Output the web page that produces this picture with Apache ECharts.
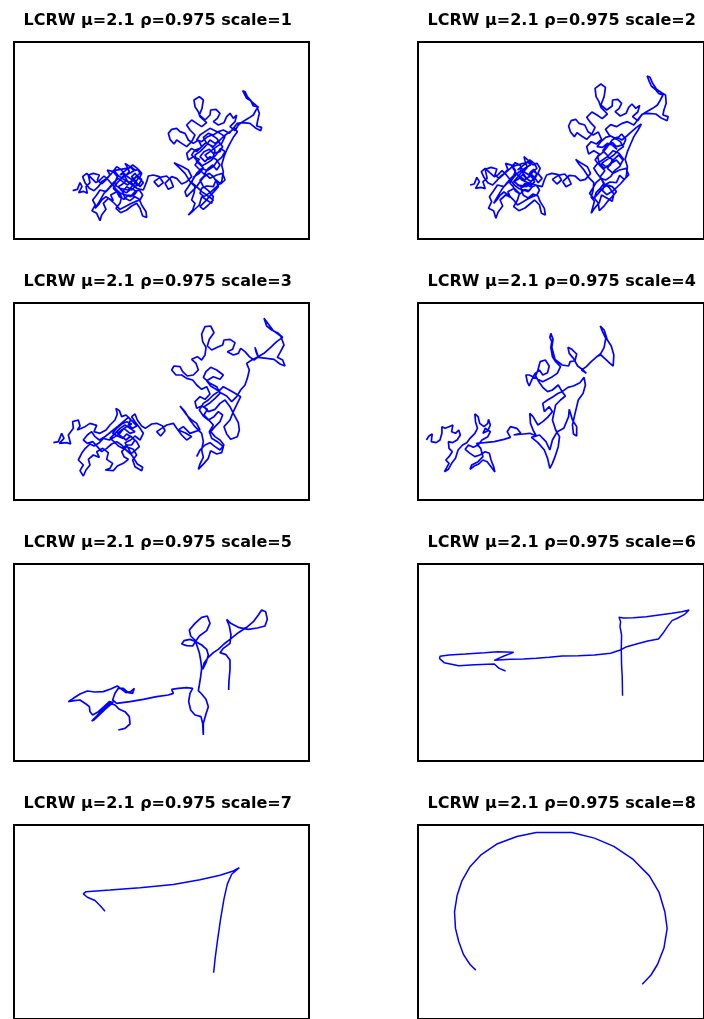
<!DOCTYPE html>
<html><head><meta charset="utf-8">
<script src="https://cdn.jsdelivr.net/npm/echarts@6/dist/echarts.min.js"></script>
<style>html,body{margin:0;padding:0;background:#fff}#c{width:704px;height:1019px}</style>
</head><body><div id="c"></div>
<script>
// Titles
const titles = [
  'LCRW μ=2.1 ρ=0.975 scale=1','LCRW μ=2.1 ρ=0.975 scale=2',
  'LCRW μ=2.1 ρ=0.975 scale=3','LCRW μ=2.1 ρ=0.975 scale=4',
  'LCRW μ=2.1 ρ=0.975 scale=5','LCRW μ=2.1 ρ=0.975 scale=6',
  'LCRW μ=2.1 ρ=0.975 scale=7','LCRW μ=2.1 ρ=0.975 scale=8'
];
// Walk coordinates (x, y), in panel units
const walk1 = [[218,572],[232,568],[240,548],[246,560],[236,578],[250,574],[262,580],[258,560],[270,548],[265,525],[280,520],[298,525],[292,540],[305,552],[318,540],[330,525],[322,510],[340,515],[352,530],[345,548],[332,560],[318,575],[300,570],[290,585],[278,600],[286,615],[276,632],[290,640],[300,662],[305,645],[318,628],[310,610],[325,595],[340,602],[332,585],[350,575],[365,590],[360,610],[348,625],[362,638],[380,630],[395,618],[410,610],[420,625],[428,648],[440,652],[438,635],[425,615],[418,598],[405,590],[390,602],[375,595],[368,575],[380,560],[395,570],[410,555],[400,540],[385,548],[375,530],[388,515],[380,498],[375,490],[390,500],[402,512],[415,508],[425,520],[418,535],[430,548],[420,560],[408,545],[395,530],[405,520],[415,535],[400,555],[385,570],[360,565],[345,555],[360,540],[372,525],[365,510],[350,500],
 [335,520],[320,535],[305,545],[295,560],[282,572],[268,565],[255,548],[248,530],[260,520],[275,535],[288,548],[300,540],[312,528],[325,540],[338,555],[350,570],[362,580],[378,585],[392,590],[405,575],[418,570],[428,585],[420,600],[405,605],[390,612],[375,620],[360,628],[345,612],[332,600],[318,590],[305,600],[295,615],[285,625],[298,605],[312,580],[326,565],[340,548],[355,535],[368,545],[382,555],[395,545],[408,530],[420,520],[412,505],[398,495],[385,505],[372,515],[360,525],
 [372,520],[385,532],[398,540],[412,528],[425,538],[418,552],[405,560],[392,552],[380,540],[368,552],[355,560],[365,572],[380,578],[395,565],[410,575],[400,588],[385,585],[372,598],[358,590],[350,575],[340,565],[352,548],[365,535],[378,525],[392,518],[405,510],[395,502],
 [342,512],[356,528],[378,542],[396,550],[410,565],[430,570],[440,545],[445,528],[460,525],[478,530],[490,548],[475,560],[462,545],[480,532],[500,528],[512,540],[520,560],[505,568],[495,550],[515,530],[530,535],[545,552],[560,545],[575,530],[565,510],[548,500],[530,492],[522,488],[540,505],[555,520],[570,545],[585,560],[582,580],[575,600],[585,610],[578,630],[565,645],[582,630],[598,615],[605,590],[620,600],[635,610],[640,590],[625,572],[610,560],[600,540],[615,525],[600,510],[585,495],[598,478],[580,470],[565,480],[560,460],[575,445],[590,455],[605,440],[595,420],[580,430],[565,420],[555,400],[540,395],[530,385],[515,388],[505,400],[510,418],[522,432],[530,420],[545,430],[560,440],[575,425],[585,405],[570,390],[560,375],[575,360],[590,370],[605,380],[620,368],[600,350],[595,335],[585,320],[582,300],[598,290],[610,300],[606,325],[598,345],[615,360],[630,345],[632,330],[648,328],[660,340],[652,355],[640,365],[655,375],[672,368],[680,350],[690,340],[700,355],[710,345],[705,365],[690,380],[705,392],[715,375],[728,365],[745,355],[760,345],[768,330],[775,320],[760,318],[752,302],[740,295],[735,285],[728,272],[735,275],[742,290],[755,305],[770,318],[778,340],[773,362],[770,378],[785,382],[782,392],[768,385],[750,370],[728,368],[712,370],[700,385],[688,400],[670,390],[655,395],[640,405],[625,400],[610,412],[620,430],[640,440],[655,425],[668,440],[660,455],[640,460],[628,448],[612,455],[600,470],[615,485],[630,470],[648,478],[660,495],[650,510],[638,495],[625,505],[615,520],[630,535],[650,525],[668,520],[675,540],[662,552],[648,540],[640,560],[620,558],[605,565],[600,580],[612,590],[630,578],[650,560],[665,545],[670,515],[665,495],[672,470],[680,450],[690,430],[700,412],[712,395],[705,385],
 [690,395],[672,408],[660,420],[645,430],[630,420],[615,440],[600,455],[585,465],[590,485],[605,498],[620,490],[635,480],[650,462],[662,445],[675,455],[665,472],[650,485],[640,500],[622,512],[605,505],[590,520],[578,540],[565,560],[555,575],[560,590],[575,575],[590,560],[600,545],[612,530],[628,520],[640,530],[650,545],[655,560],[642,575],[628,590],[615,605],[600,620],[610,628],[625,615],[640,600],[620,585],[605,575],
 [590,560],[575,548],[582,530],[598,520],[610,505],[600,490],[588,478],[575,465],[585,450],[600,445],[615,430],[630,435],[645,450],[640,470],[625,478],[615,465],[630,455],[650,440],[665,430],[675,410],[660,400],[645,392],[630,385],[615,395],[600,405],[590,420],[605,425],[620,412],[635,405],[650,415],[660,430]];
const walk2 = [[215,555],[228,552],[236,532],[244,545],[232,565],[248,562],[262,566],[255,545],[268,535],[262,508],[280,502],[298,507],[292,525],[305,535],[320,522],[332,508],[325,490],[345,496],[356,512],[348,532],[335,545],[320,560],[300,555],[288,572],[275,590],[282,605],[272,625],[288,632],[295,655],[302,636],[316,618],[308,600],[325,585],[340,592],[332,575],[352,565],[368,580],[362,600],[350,620],[366,632],[385,624],[400,612],[415,600],[430,615],[436,640],[448,645],[445,625],[432,605],[425,588],[410,582],[395,594],[380,586],[372,565],[385,550],[400,560],[415,545],[404,528],[390,535],[378,518],[392,502],[385,482],[382,470],[396,482],[410,495],[422,490],[432,505],[425,520],[438,535],[426,548],[414,532],[400,518],[412,508],[422,522],[406,542],[390,560],[365,555],[350,545],[365,528],[378,512],[370,496],[355,488],
 [340,505],[325,518],[310,528],[298,542],[285,555],[270,548],[258,532],[250,515],[262,505],[276,518],[290,530],[302,524],[314,512],[327,524],[340,540],[352,555],[365,565],[380,570],[395,575],[408,560],[420,555],[430,570],[422,585],[408,590],[392,598],[378,606],[362,615],[348,598],[335,586],[320,576],[308,586],[298,600],[288,610],[300,590],[315,566],[328,550],[342,534],[357,520],[370,530],[384,540],[397,530],[410,515],[422,505],[414,490],[400,480],[388,490],[375,500],[362,510],
 [370,505],[383,516],[396,524],[410,512],[423,522],[416,536],[403,544],[390,536],[378,524],[366,536],[353,544],[363,556],[378,562],[393,549],[408,559],[398,572],[383,569],[370,582],[356,574],[348,559],[338,549],[350,532],[363,519],[376,509],[390,502],[403,494],[393,486],
 [345,500],[358,520],[375,540],[395,548],[418,555],[438,560],[445,540],[452,525],[468,520],[488,524],[498,540],[484,552],[470,538],[488,526],[508,522],[520,535],[528,552],[512,560],[502,545],[522,526],[540,528],[556,542],[572,538],[588,520],[578,500],[560,490],[542,478],[536,472],[552,492],[566,508],[582,532],[598,548],[596,570],[590,592],[600,604],[594,625],[590,640],[600,625],[615,608],[622,585],[638,594],[655,604],[660,582],[645,562],[628,550],[618,530],[632,512],[618,498],[602,480],[615,462],[598,452],[582,462],[576,440],[590,425],[606,432],[622,418],[612,396],[596,405],[580,395],[570,375],[552,370],[542,358],[528,362],[520,378],[526,396],[538,410],[546,398],[560,408],[576,418],[592,402],[602,382],[588,368],[576,352],[592,336],[608,345],[624,356],[640,342],[620,322],[614,305],[605,290],[602,265],[620,252],[634,262],[630,290],[620,315],[638,330],[655,318],[656,300],[672,298],[684,310],[676,326],[664,335],[680,348],[698,340],[706,322],[716,312],[728,325],[740,316],[734,336],[718,350],[734,362],[746,345],[760,336],[780,325],[795,315],[804,300],[812,285],[798,280],[788,268],[776,258],[770,245],[763,228],[772,232],[780,250],[792,268],[808,278],[820,285],[822,310],[815,330],[812,345],[828,350],[825,362],[808,355],[790,342],[766,340],[748,342],[735,358],[722,375],[702,365],[686,370],[668,380],[650,374],[634,388],[646,406],[668,418],[684,402],[697,418],[690,434],[668,440],[656,428],[638,436],[626,452],[642,468],[658,452],[676,460],[690,478],[680,494],[668,480],[652,490],[640,505],[658,520],[678,510],[698,505],[706,525],[692,538],[678,526],[668,548],[648,546],[630,556],[625,572],[638,584],[658,572],[680,552],[698,532],[702,500],[695,478],[702,455],[712,432],[722,410],[735,390],[745,372],
 [730,382],[715,395],[700,408],[685,420],[670,412],[655,420],[640,440],[625,458],[610,470],[615,490],[630,505],[645,495],[660,478],[675,465],[688,480],[678,500],[662,512],[650,530],[635,540],[620,535],[605,548],[595,565],[585,580],[598,595],[612,580],[625,565],[640,555],[655,560],[668,575],[655,590],[640,605],[628,620],[615,632],
 [612,610],[600,595],[605,578],[618,565],[630,550],[620,535],[608,520],[598,505],[610,490],[625,480],[640,470],[655,478],[650,495],[635,500],[622,490],[640,478],[660,465],[675,450],[690,440],[680,425],[665,415],[650,408],[635,412],[620,425],[608,440],[625,442],[640,430],[655,435],[670,448]];
const walk3 = [[160,548],[175,545],[185,520],[192,535],[178,550],[200,548],[212,552],[205,525],[220,505],[218,485],[235,480],[240,498],[232,510],[255,500],[270,490],[290,496],[282,515],[300,520],[318,510],[330,495],[345,480],[352,462],[348,445],[358,452],[365,470],[378,465],[392,478],[385,495],[398,505],[410,498],
 [398,485],[385,472],[370,485],[355,498],[340,510],[325,522],[312,532],[298,540],[285,530],[275,515],[262,525],[250,540],[262,550],[278,545],[292,560],[305,575],[320,565],[335,552],[350,545],[365,555],[378,570],[392,582],[405,572],[418,560],[410,545],[395,532],[380,522],[368,535],[352,528],[338,520],[350,505],[365,492],[380,485],[395,492],
 [380,500],[365,510],[352,520],[365,530],[378,540],[392,528],[405,540],[395,555],[380,555],[368,565],[355,558],[342,545],[330,535],[345,520],[360,505],[375,495],[390,505],
 [405,515],[390,520],[372,505],[360,520],[345,530],[328,540],[310,535],[298,548],[282,558],[270,552],[256,565],[245,580],[235,600],[250,615],[240,632],[250,648],[258,630],[270,615],[265,598],[280,585],[298,592],[290,575],[308,565],[325,578],[320,598],[338,610],[330,625],[316,630],[340,632],[352,618],[370,610],[385,598],[372,590],[365,575],[380,560],[400,568],[410,585],[398,600],[405,620],[425,632],[428,622],[412,612],[395,585],[385,565],[375,548],[392,540],[405,528],[420,540],[430,520],[420,505],[405,485],[395,470],[405,462],[412,480],[425,498],[436,505],[455,492],[470,490],[488,498],[495,512],[482,528],[470,515],[485,505],[500,495],[520,490],[530,505],[545,525],[560,540],[575,530],[555,518],[535,510],[550,500],[570,520],[585,515],[600,510],[590,490],[575,480],[560,465],[545,445],[540,438],[555,455],[570,480],[585,500],[605,520],[610,545],[605,570],[610,592],[600,612],[595,628],[612,610],[625,595],[632,572],[650,582],[665,578],[670,560],[652,545],[635,535],[628,515],[640,495],[628,482],[612,465],[622,448],[605,438],[590,445],[585,425],[600,410],[615,418],[630,402],[620,380],[605,388],[590,375],[578,360],[560,355],[545,345],[528,345],[515,330],[522,318],[540,320],[548,335],[562,348],[580,345],[595,330],[588,310],[575,298],[592,290],[605,300],[615,285],[618,262],[608,245],[605,222],[615,200],[632,198],[642,218],[628,238],[622,258],[635,270],[652,262],[668,255],[672,240],[690,238],[705,248],[698,268],[682,275],[700,285],[715,280],[722,265],[735,275],[748,290],[762,300],[778,288],[792,280],[812,262],[830,245],[848,232],[835,220],[815,210],[800,198],[792,175],[805,192],[820,212],[842,228],[852,255],[840,278],[832,292],[848,300],[855,318],[840,312],[822,298],[800,295],[775,292],[768,275],[765,262],[775,290],[755,300],[740,310],[748,330],[742,355],[735,375],[722,390],[710,410],[695,425],[680,408],[662,398],[648,388],[632,378],[620,362],[640,350],[660,358],[670,345],[650,330],[632,322],[618,335],[610,352],[630,370],[650,380],[660,400],[645,415],[628,430],[612,440],[625,455],[645,448],[660,430],[675,420],[690,440],[700,460],[715,488],[718,510],[712,530],[692,538],[680,522],[672,500],[690,480],[700,455],[712,430],[722,410],
 [705,400],[688,390],[670,380],[655,395],[640,405],[625,420],[610,430],[598,450],[610,468],[625,480],[642,470],[655,455],[668,465],[660,485],[645,500],[632,515],[645,530],[660,540],[672,555],[660,570],[645,560],[630,548],[615,555],[600,570],[590,590]];
const walk4 = [[80,540],[88,528],[98,522],[95,545],[110,548],[122,540],[128,520],[128,500],[138,505],[150,500],[162,495],[158,515],[170,520],[180,510],[185,525],[175,540],[160,548],[148,545],[150,565],[160,575],[150,590],[140,600],[150,610],[136,635],[148,628],[158,610],[170,595],[178,570],[192,555],[205,548],[215,535],[230,520],[238,505],[232,485],[230,462],[240,470],[245,490],[258,500],[270,490],[272,478],[278,495],[270,512],[255,520],[262,505],[278,515],[270,530],[252,540],[240,555],[225,562],[210,555],[200,568],[215,580],[230,590],[245,585],[262,575],[275,580],[280,600],[288,620],[292,636],[280,620],[268,605],[255,600],[242,612],[228,618],[215,628],[220,615],[240,605],[255,590],[248,565],[235,550],[260,548],[290,545],[320,538],[340,532],[330,515],[340,500],[360,505],[372,520],[350,525],[380,522],[400,520],[420,528],[410,510],[402,490],[400,460],[410,470],[425,495],[440,485],[455,472],[470,455],[460,440],[445,455],[440,430],[455,420],[472,410],[488,400],[500,395],[510,408],[495,420],[480,435],[470,480],[480,510],[492,530],[488,560],[478,590],[470,610],[462,625],[455,595],[445,570],[425,548],[405,532],[430,525],[450,545],[462,570],[470,540],[485,515],[505,505],[520,470],[522,448],[532,480],[545,500],[545,528],[535,522],[532,495],[540,460],[550,420],[565,400],[572,375],[568,352],[555,368],[535,378],[518,382],[500,395],[488,375],[470,390],[455,395],[440,382],[428,365],[418,348],[425,330],[432,305],[448,300],[460,318],[455,338],[440,345],[430,330],[415,342],[405,362],[398,378],[392,365],[388,345],[398,345],[410,350],[440,365],[470,350],[485,340],[495,320],[480,305],[470,290],[465,262],[468,245],[462,232],[465,220],[472,238],[468,262],[478,298],[500,315],[520,318],[525,305],[540,302],[545,282],[530,268],[518,262],[522,280],[535,295],[548,318],[565,330],[575,340],[560,330],[575,320],[590,305],[605,292],[620,280],[630,262],[635,235],[625,215],[618,198],[630,210],[640,240],[652,258],[660,285],[658,318],[648,310],[635,298],[620,285],[605,290]];
const walk5 = [[355,630],[375,625],[390,612],[388,590],[375,575],[358,568],[345,555],[330,550],[318,558],[305,572],[290,588],[275,603],[272,608],[282,600],[298,585],[315,568],[330,555],[340,548],[328,545],[312,560],[295,575],[278,585],[270,575],[268,560],[258,552],[240,540],[222,542],[205,545],[220,535],[240,522],[262,513],[285,516],[310,515],[332,507],[352,498],[365,508],[378,518],[392,515],[403,505],[398,520],[385,518],[370,505],[355,505],[345,520],[338,540],[350,550],[390,545],[430,538],[470,530],[505,525],[520,520],[515,508],[535,505],[560,503],[578,505],[570,520],[566,545],[572,570],[585,585],[603,590],[608,610],[610,645],[610,610],[618,582],[625,560],[618,538],[605,522],[595,512],[598,495],[602,470],[605,445],[602,420],[598,398],[592,380],[585,360],[572,348],[568,330],[585,310],[605,292],[622,288],[630,310],[620,332],[598,348],[588,362],[578,378],[560,377],[545,372],[552,362],[570,358],[588,365],[605,375],[620,388],[625,405],[618,428],[608,448],[612,430],[625,412],[640,398],[655,388],[672,372],[690,358],[715,338],[740,322],[760,305],[775,285],[785,270],[797,275],[802,298],[795,318],[772,324],[745,328],[715,322],[692,310],[680,298],[688,318],[693,345],[690,370],[670,385],[660,398],[678,404],[690,420],[690,450],[687,480],[686,510]];
const walk6 = [[687,527],[686,470],[684,435],[683,390],[684,345],[679,320],[681,305],[676,292],[690,294],[720,293],[760,290],[800,285],[840,280],[870,275],[893,270],[878,284],[858,294],[840,302],[826,320],[812,340],[798,357],[765,363],[730,372],[700,380],[680,390],[650,400],[600,405],[550,407],[500,408],[460,412],[420,415],[380,417],[340,418],[290,421],[320,408],[350,397],[300,395],[260,398],[200,402],[150,405],[122,409],[121,416],[135,428],[180,437],[230,434],[290,432],[305,445],[325,453]];
const walk7 = [[315,398],[300,380],[285,365],[262,355],[250,345],[258,338],[330,333],[420,326],[520,316],[600,302],[660,288],[700,275],[718,265],[695,285],[682,315],[672,360],[662,420],[652,490],[645,545],[641,585]];
const walk8 = [[233,577],[215,560],[195,530],[180,490],[170,450],[167,400],[175,350],[190,305],[215,262],[250,225],[300,192],[360,170],[420,158],[530,158],[600,175],[660,200],[720,240],[770,290],[800,340],[818,400],[825,450],[815,510],[795,560],[775,592],[748,620]];
const walks = [walk1, walk2, walk3, walk4, walk5, walk6, walk7, walk8];

// Layout: panel boxes (pixels) and the panel-unit extents they span
const layout = [
  {left:14,  top:42,  xr:[42,927], yr:[126,717]},
  {left:418, top:42,  xr:[54,939], yr:[126,717]},
  {left:14,  top:303, xr:[42,927], yr:[129,720]},
  {left:418, top:303, xr:[54,939], yr:[129,720]},
  {left:14,  top:564, xr:[42,927], yr:[132,723]},
  {left:418, top:564, xr:[54,939], yr:[132,723]},
  {left:14,  top:825, xr:[42,927], yr:[135,726]},
  {left:418, top:825, xr:[54,939], yr:[135,726]}
];
const W = 295, H = 197;

const option = {
  animation:false, backgroundColor:'#fff',
  graphic: layout.map((p,i)=>({
    type:'text', x: p.left + W/2 - 3.8, y: p.top - 21.5, silent:true,
    style:{text: titles[i], align:'center', verticalAlign:'middle',
      font:'bold 16px "DejaVu Sans"', fill:'#000'}
  })),
  grid: layout.map(p=>({left:p.left, top:p.top, width:W, height:H, show:true,
    borderColor:'#000', borderWidth:2, backgroundColor:'#fff', containLabel:false})),
  xAxis: layout.map((p,i)=>({type:'value', gridIndex:i, min:p.xr[0], max:p.xr[1], show:false})),
  yAxis: layout.map((p,i)=>({type:'value', gridIndex:i, min:p.yr[0], max:p.yr[1], inverse:true, show:false})),
  series: walks.map((w,i)=>({type:'line', xAxisIndex:i, yAxisIndex:i, data:w, showSymbol:false,
    symbol:'none', lineStyle:{color:'#0000ff', width: i<5 ? 1.7 : 1.5}, silent:true}))
};
echarts.init(document.getElementById('c')).setOption(option);
</script></body></html>
